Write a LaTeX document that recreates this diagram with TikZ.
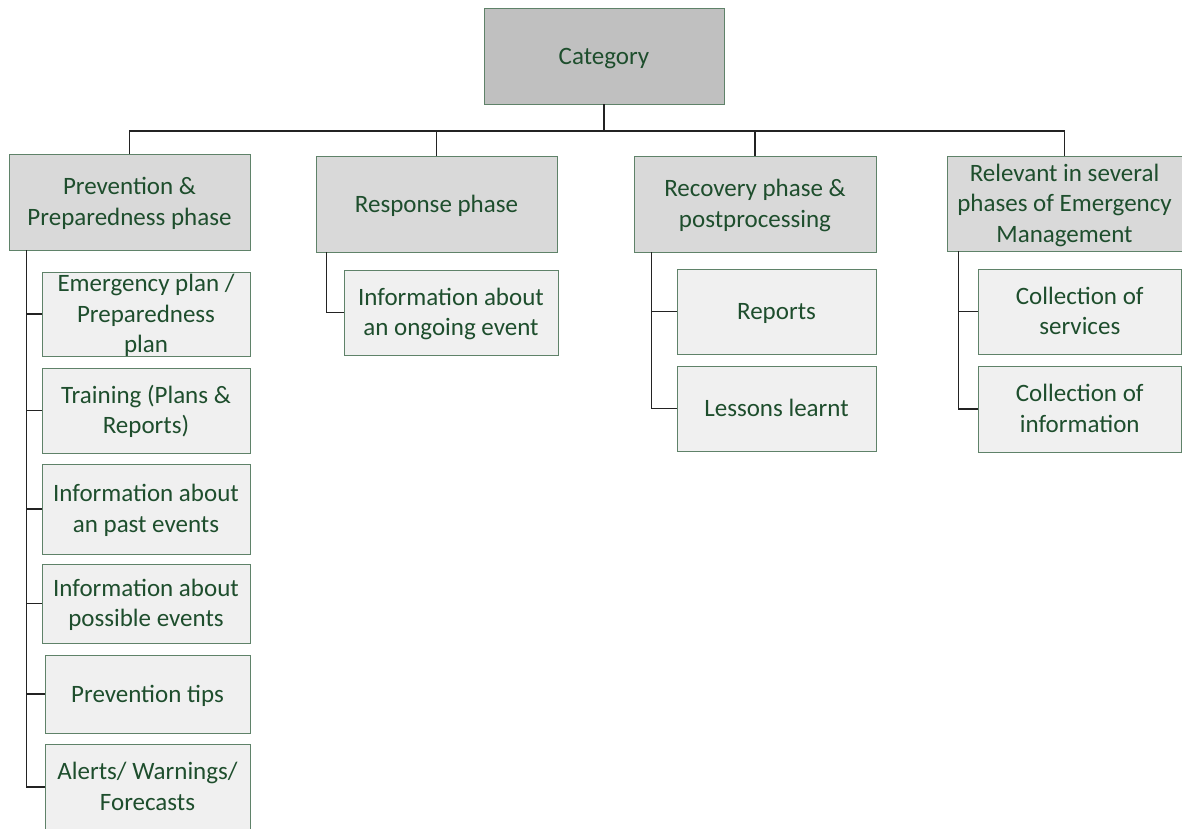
\documentclass[tikz,border=0pt]{standalone}
\usepackage{fontspec}
\setmainfont{Carlito}
\definecolor{edgegreen}{RGB}{95,130,105}
\definecolor{textgreen}{RGB}{30,78,45}
\definecolor{catfill}{RGB}{192,192,192}
\definecolor{phasefill}{RGB}{217,217,217}
\definecolor{leaffill}{RGB}{240,240,240}
\definecolor{linkgrey}{RGB}{35,35,35}

% text block of a cell: centred, with no size of its own, so the cell keeps its given size
\newsavebox\cbx
\newcommand{\celltext}[1]{%
  \sbox\cbx{\parbox{340pt}{\centering\strut #1\strut}}%
  \makebox[0pt]{\raisebox{\dimexpr(\dp\cbx-\ht\cbx)/2-2pt\relax}[0pt][0pt]{\usebox\cbx}}}

% a cell given by its corners: name, style, x1, y1, x2, y2, text
\newcommand{\cell}[7]{%
  \node[#2, minimum width={(#5-#3)*1pt}, minimum height={(#6-#4)*1pt}]
    (#1) at ({(#3+#5)/2},{(#4+#6)/2}) {\celltext{#7}};}

\tikzset{
  cellbase/.style={rectangle, draw=edgegreen, line width=0.9pt, inner sep=0pt,
    text=textgreen, font=\fontsize{25}{30.5}\selectfont},
  topcell/.style={cellbase, fill=catfill},
  phasecell/.style={cellbase, fill=phasefill},
  leafcell/.style={cellbase, fill=leaffill},
  link/.style={draw=linkgrey, line width=1.3pt},
}

\begin{document}
\begin{tikzpicture}[x=1pt, y=-1pt]
\clip (0,0) rectangle (1182,828);
\fill[white] (0,0) rectangle (1182,828);

% root
\cell{cat}{topcell}{484}{8}{724}{104}{Category}

% phases
\cell{prev}{phasecell}{9}{154}{250}{250}{Prevention \&\\Preparedness phase}
\cell{resp}{phasecell}{316}{156}{557}{252}{Response phase}
\cell{rec}{phasecell}{634}{156}{876}{252}{Recovery phase \&\\postprocessing}
\cell{rel}{phasecell}{947}{156}{1182}{251}{Relevant in several\\phases of Emergency\\Management}

% prevention & preparedness items
\cell{emerg}{leafcell}{42}{272}{250}{356}{Emergency plan /\\Preparedness\\plan}
\cell{train}{leafcell}{42}{368}{250}{453}{Training (Plans \&\\Reports)}
\cell{past}{leafcell}{42}{464}{250}{554}{Information about\\an past events}
\cell{poss}{leafcell}{42}{564}{250}{643}{Information about\\possible events}
\cell{tips}{leafcell}{45}{655}{250}{733}{Prevention tips}
\cell{alert}{leafcell}{45}{744}{250}{830}{Alerts/ Warnings/\\Forecasts}

% response items
\cell{ongo}{leafcell}{344}{270}{558}{355}{Information about\\an ongoing event}

% recovery items
\cell{reps}{leafcell}{677}{269}{876}{354}{Reports}
\cell{less}{leafcell}{677}{366}{876}{451}{Lessons learnt}

% items relevant in several phases
\cell{serv}{leafcell}{978}{269}{1181.5}{354}{Collection of\\services}
\cell{info}{leafcell}{978}{366}{1181.5}{452}{Collection of\\information}

% bus from the root to the phases
\coordinate (bus) at (0,131);
\draw[link] (cat.south) -- (cat.south |- bus) -| (prev.north);
\draw[link] (cat.south |- bus) -| (resp.north);
\draw[link] (cat.south |- bus) -| (rec.north);
\draw[link] (cat.south |- bus) -| (rel.north);

% stems from each phase to its items
\draw[link] ([xshift=18pt]prev.south west) |- (emerg.west);
\draw[link] ([xshift=18pt]prev.south west) |- (train.west);
\draw[link] ([xshift=18pt]prev.south west) |- (past.west);
\draw[link] ([xshift=18pt]prev.south west) |- (poss.west);
\draw[link] ([xshift=18pt]prev.south west) |- (tips.west);
\draw[link] ([xshift=18pt]prev.south west) |- (alert.west);

\draw[link] ([xshift=11pt]resp.south west) |- (ongo.west);

\draw[link] ([xshift=18pt]rec.south west) |- (reps.west);
\draw[link] ([xshift=18pt]rec.south west) |- (less.west);

\draw[link] ([xshift=12pt]rel.south west) |- (serv.west);
\draw[link] ([xshift=12pt]rel.south west) |- (info.west);
\end{tikzpicture}
\end{document}
